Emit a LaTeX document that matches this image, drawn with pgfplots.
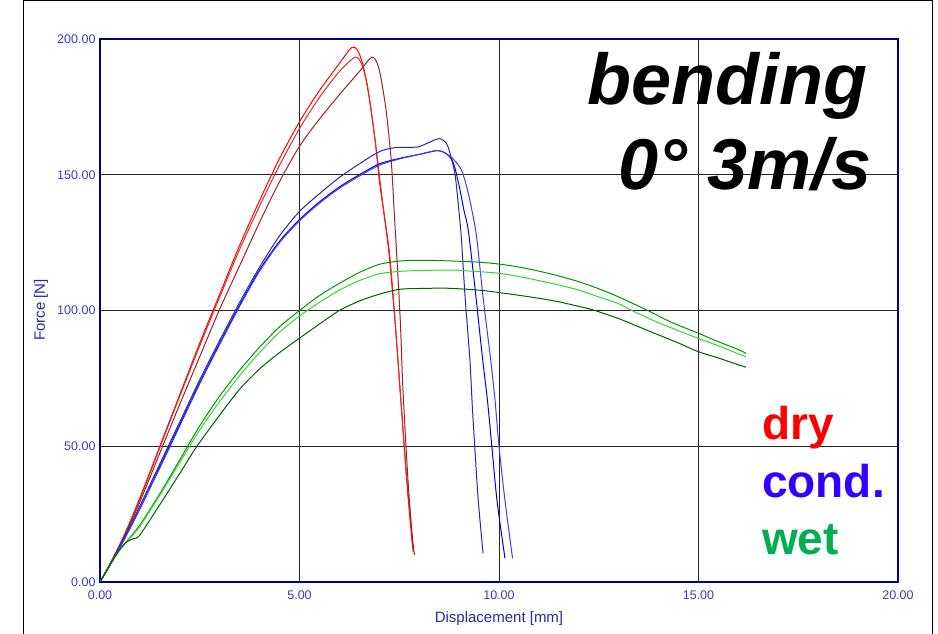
\documentclass[border=0pt]{standalone}
\usepackage{fontspec}
\setmainfont{Liberation Sans}
\usepackage{pgfplots}
\pgfplotsset{compat=1.18}

\definecolor{frameblue}{RGB}{0,0,140}
\definecolor{ticktext}{RGB}{60,60,190}
\definecolor{labeltext}{RGB}{40,40,165}
\definecolor{redA}{RGB}{255,0,0}
\definecolor{redB}{RGB}{225,40,40}
\definecolor{redC}{RGB}{155,35,35}
\definecolor{blueA}{RGB}{40,40,165}
\definecolor{blueB}{RGB}{0,0,225}
\definecolor{blueC}{RGB}{60,60,255}
\definecolor{greenA}{RGB}{0,150,0}
\definecolor{greenB}{RGB}{50,215,50}
\definecolor{greenC}{RGB}{0,95,0}
\definecolor{drycol}{RGB}{255,0,0}
\definecolor{condcol}{RGB}{51,0,255}
\definecolor{wetcol}{RGB}{0,176,80}

\begin{document}
\begin{tikzpicture}[x=1pt,y=1pt]
\useasboundingbox (0,0) rectangle (938,634);
% outer slide frame
\draw[black, line width=1pt] (23,-10) -- (23,633) -- (932,633) -- (932,-10);

\begin{axis}[
  at={(100pt,52pt)}, anchor=south west,
  scale only axis,
  width=798pt, height=543pt,
  xmin=0, xmax=20, ymin=0, ymax=200,
  xtick={0,5,10,15,20},
  ytick={0,50,100,150,200},
  major tick length=0pt,
  grid=major,
  major grid style={black!85, line width=0.8pt},
  axis line style={frameblue, line width=2.5pt},
  /pgf/number format/.cd, fixed, fixed zerofill, precision=2, assume math mode=true,
  /pgfplots/.cd,
  ticklabel style={font=\fontsize{12.5}{14}\selectfont, text=ticktext},
  xticklabel style={yshift=-5pt},
  yticklabel style={xshift=-1pt},
  every axis plot/.append style={line width=1pt, no markers, smooth, tension=0.45},
]

% dry
\addplot[redA] coordinates {
 (0,0) (0.3,8) (0.6,17) (1,31) (1.5,50) (2,69) (2.5,88) (3,106) (3.5,124)
 (4,140.5) (4.5,156) (5,169.5) (5.5,181) (6,191) (6.3,196.8) (6.45,196)
 (6.6,190) (6.75,178) (6.9,162) (7.0,148) (7.15,132) (7.25,120) (7.4,95)
 (7.5,75) (7.6,55) (7.7,35) (7.8,18) (7.85,11)
};
\addplot[redB] coordinates {
 (0,0) (0.3,8) (0.6,17) (1,30.5) (1.5,49.5) (2,68.5) (2.5,87) (3,105) (3.5,122.5)
 (4,138.5) (4.5,153.5) (5,167) (5.5,178.5) (6,188) (6.39,193.3) (6.55,191)
 (6.7,183) (6.85,168) (7.0,150) (7.1,138) (7.25,122) (7.35,105) (7.45,85)
 (7.55,65) (7.65,45) (7.75,28) (7.85,12)
};
\addplot[redC] coordinates {
 (0,0) (0.3,8) (0.6,16.5) (1,29.5) (1.5,47.5) (2,65.5) (2.5,83) (3,100.5) (3.5,116.5)
 (4,132.5) (4.5,147.5) (5,160.5) (5.5,170.5) (6,179.5) (6.5,188) (6.81,193.3)
 (6.95,191) (7.05,185) (7.18,172.6) (7.3,155) (7.39,132) (7.47,112) (7.53,95)
 (7.58,75) (7.65,55) (7.73,35) (7.82,18) (7.88,10)
};

% cond.
\addplot[blueA] coordinates {
 (0,0) (0.3,7.5) (0.6,16) (1,28) (1.5,43.5) (2,59) (2.5,74.5) (3,89) (3.5,103)
 (4,116) (4.5,127.5) (5,136.5) (5.5,143) (6,149) (6.5,154) (7,158.5) (7.4,160)
 (7.95,160.2) (8.2,161.6) (8.5,163.3) (8.68,161.6) (8.78,157.5) (8.9,150)
 (9.0,136) (9.06,126) (9.15,105) (9.27,82) (9.33,65) (9.4,48) (9.48,30) (9.6,10.6)
};
\addplot[blueB] coordinates {
 (0,0) (0.3,7.5) (0.6,15.5) (1,27) (1.5,42.5) (2,58) (2.5,73.5) (3,88) (3.5,102)
 (4,115) (4.5,125.5) (5,133.5) (5.5,140) (6,145.5) (6.5,150) (7,154) (7.5,156)
 (8,157.5) (8.48,158.9) (8.7,157.5) (8.86,154.2) (9.0,146) (9.12,137) (9.23,129.6)
 (9.4,108) (9.59,82) (9.71,67) (9.82,50) (9.95,30) (10.15,8.7)
};
\addplot[blueC] coordinates {
 (0,0) (0.3,7.5) (0.6,15.5) (1,27) (1.5,42) (2,57.5) (2.5,73) (3,87.5) (3.5,101.5)
 (4,114.5) (4.5,125) (5,133) (5.5,139.5) (6,145) (6.5,149.5) (7,153.5) (7.5,155.8)
 (8,157.5) (8.48,158.9) (8.8,156.5) (9.05,152) (9.2,145) (9.32,137) (9.44,127)
 (9.6,105) (9.79,82) (9.9,67) (10.0,50) (10.15,30) (10.34,8.7)
};

% wet
\addplot[greenA] coordinates {
 (0,0) (0.3,7.5) (0.5,12) (0.7,15.5) (1,21) (1.5,32.5) (2,45) (2.5,57.5) (3,68.5)
 (3.5,78) (4,86.5) (4.5,94) (5,100) (5.5,105.5) (6,110) (6.5,114) (7,117)
 (7.5,118.2) (8,118.5) (8.7,118.3) (9.5,117.8) (10,117.1) (10.5,116) (11,114.5)
 (11.5,112.7) (12,110.6) (12.5,108) (13,105) (13.7,100.2) (14.3,95.8) (15,91.6)
 (15.5,88.5) (16,85.6) (16.19,84.2)
};
\addplot[greenB] coordinates {
 (0,0) (0.3,7.5) (0.5,12) (0.7,15.3) (1,20.5) (1.5,32) (2,44) (2.5,56) (3,66.5)
 (3.5,76) (4,84.5) (4.5,92) (5,98) (5.5,103) (6,107.5) (6.5,111) (7,113.5)
 (7.5,114.4) (8,114.7) (8.8,114.9) (9.5,114.3) (10,113.7) (10.5,112.5) (11,111)
 (11.5,109.4) (12,107.5) (12.5,105) (13,102.5) (13.3,100.2) (14,95.5) (15,89.7)
 (15.5,87) (16,84) (16.19,83)
};
\addplot[greenC] coordinates {
 (0,0) (0.3,7.5) (0.5,12) (0.67,14.8) (0.85,16) (1,17.3) (1.5,28.5) (2,40)
 (2.42,49.8) (3,61.5) (3.5,71) (4,78.5) (4.5,84.5) (5,89.8) (5.5,95) (6,100)
 (6.5,103.5) (7,106) (7.5,107.8) (8,108.1) (8.7,108.2) (9.5,107.5) (10,106.6)
 (10.5,105.6) (11,104.5) (11.5,103.2) (12,101.5) (12.36,100.2) (13,97) (13.5,94)
 (14,91) (14.5,88) (15,84.8) (15.5,82.5) (16,80) (16.19,79.1)
};
\end{axis}

% axis titles
\node[anchor=base, text=labeltext, font=\fontsize{15}{17}\selectfont] at (499,11) {Displacement [mm]};
\node[rotate=90, anchor=center, text=labeltext, font=\fontsize{15}{17}\selectfont] at (41,324) {Force [N]};

% annotations
\node[anchor=base east, font=\fontsize{72}{80}\selectfont\bfseries\itshape, inner sep=0pt] at (868,529) {bending};
\node[anchor=base east, font=\fontsize{72}{80}\selectfont\bfseries\itshape, inner sep=0pt] at (872,444) {0° 3m/s};
\node[anchor=base west, text=drycol, font=\fontsize{46}{50}\selectfont\bfseries, inner sep=0pt] at (762,194) {dry};
\node[anchor=base west, text=condcol, font=\fontsize{46}{50}\selectfont\bfseries, inner sep=0pt] at (762,136) {cond.};
\node[anchor=base west, text=wetcol, font=\fontsize{46}{50}\selectfont\bfseries, inner sep=0pt] at (762,79) {wet};
\end{tikzpicture}
\end{document}
